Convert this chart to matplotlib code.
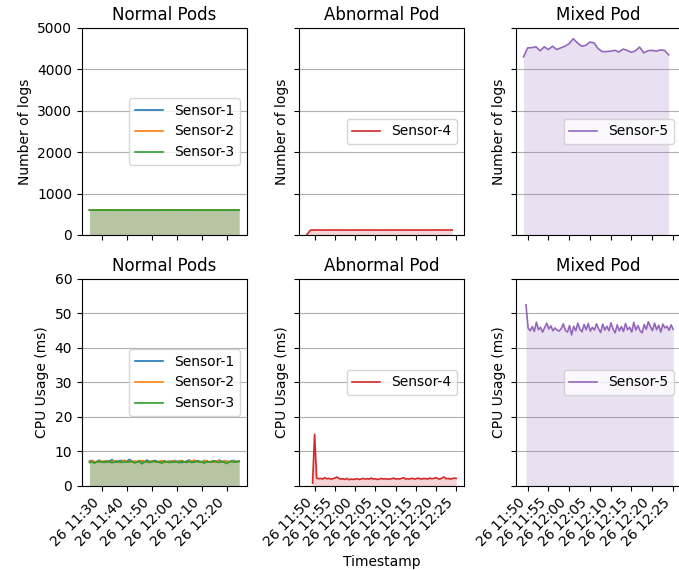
import matplotlib
matplotlib.use("Agg")
import matplotlib.pyplot as plt
import matplotlib.dates as mdates
import pandas as pd

# --- log counts per minute (top row) ---
logs_normal_s1 = [601, 600, 600, 601, 600, 599, 600, 600, 601, 600, 600, 599, 600]
logs_normal_s2 = [600, 601, 600, 600, 599, 600, 601, 600, 600, 600, 601, 600, 600]
logs_normal_s3 = [600, 600, 601, 600, 600, 600, 600, 599, 600, 601, 600, 600, 600]

logs_abnormal_s4 = [0, 118, 120, 120, 119, 120, 120, 121, 120, 120, 120, 119, 120,
                    120, 120, 121, 120, 120, 119, 120, 120, 120, 120, 121, 120, 120,
                    120, 119, 120, 120, 120, 120, 121, 120, 120, 120, 120]

logs_mixed_s5 = [4300, 4520, 4525, 4545, 4450, 4545, 4480, 4560, 4480, 4520, 4560,
                 4620, 4740, 4640, 4560, 4580, 4660, 4640, 4500, 4430, 4430, 4440,
                 4460, 4420, 4490, 4460, 4410, 4450, 4540, 4400, 4450, 4460, 4440,
                 4470, 4460, 4350]

# --- CPU usage (bottom row) ---
cpu_normal_s1 = [7.2, 7.4, 6.9, 7.1, 7.5, 7.0, 6.8, 7.3, 7.2, 7.6, 7.1, 6.9, 7.3, 7.4,
                 7.0, 7.2, 7.7, 7.1, 6.8, 7.0, 7.3, 7.2, 6.9, 7.5, 7.1, 7.0, 7.4, 7.2,
                 6.8, 7.1, 7.3, 7.0, 7.2, 6.9, 7.4, 7.1, 7.3, 6.8, 7.0, 7.2, 7.5, 7.1,
                 6.9, 7.3, 7.2, 7.0, 7.4, 7.1, 6.9, 7.2, 7.3, 7.0, 7.5, 7.1, 6.9, 7.2,
                 7.0, 7.3, 7.4, 7.1, 7.2]
cpu_normal_s2 = [7.0, 7.2, 7.1, 6.8, 7.3, 7.2, 7.0, 7.4, 6.9, 7.1, 7.3, 7.2, 6.8, 7.1,
                 7.5, 7.0, 7.2, 6.9, 7.3, 7.1, 7.0, 7.4, 7.2, 6.8, 7.1, 7.3, 7.0, 6.9,
                 7.2, 7.4, 6.8, 7.1, 7.0, 7.3, 7.2, 6.9, 7.1, 7.4, 7.0, 6.8, 7.2, 7.3,
                 7.5, 7.0, 7.1, 6.9, 7.2, 7.4, 7.0, 7.1, 6.8, 7.3, 7.2, 7.0, 7.4, 6.9,
                 7.1, 7.0, 7.3, 6.9, 7.2]
cpu_normal_s3 = [6.8, 7.0, 6.6, 7.1, 7.0, 6.9, 7.2, 6.9, 7.1, 6.7, 7.0, 7.2, 7.0, 6.8,
                 7.1, 6.9, 7.0, 7.2, 6.7, 6.9, 7.1, 6.4, 7.0, 7.1, 6.8, 7.0, 7.2, 6.9,
                 7.0, 6.6, 7.1, 7.0, 6.8, 7.1, 6.9, 7.0, 6.7, 7.2, 7.0, 6.9, 7.1, 6.8,
                 7.0, 7.2, 6.9, 7.0, 6.6, 7.1, 7.0, 6.9, 7.2, 7.0, 6.8, 7.1, 6.9, 6.5,
                 7.0, 7.1, 6.9, 7.0, 7.1]

cpu_abnormal_s4 = [0.8, 15.0, 2.3, 2.1, 2.2, 2.0, 2.4, 2.1, 2.2, 2.0, 2.1, 2.3, 2.6,
                   2.2, 2.0, 2.1, 1.9, 2.2, 1.8, 2.0, 1.9, 2.0, 2.1, 1.9, 2.0, 2.2,
                   2.0, 2.1, 2.0, 2.3, 2.0, 2.1, 1.9, 2.0, 2.2, 2.0, 2.1, 2.0, 2.0,
                   2.1, 2.3, 2.0, 2.1, 2.0, 2.2, 2.4, 2.0, 2.1, 2.0, 2.2, 2.1, 2.0,
                   2.3, 2.1, 2.0, 2.2, 2.1, 2.0, 2.3, 2.1, 2.2, 2.4, 2.1, 2.0, 2.3,
                   2.6, 2.1, 2.2, 2.0, 2.1, 2.3, 2.2]

cpu_mixed_s5 = [52.5, 45.8, 45.0, 46.2, 44.8, 47.5, 45.3, 46.0, 44.6, 45.9, 47.2, 45.5,
                46.4, 45.0, 45.8, 45.2, 44.9, 45.6, 47.0, 45.1, 44.6, 46.5, 43.8, 46.3,
                45.0, 47.2, 45.4, 44.7, 46.8, 45.3, 47.1, 44.9, 46.0, 45.2, 47.0, 45.6,
                44.5, 46.9, 45.2, 46.3, 45.0, 47.3, 45.5, 44.4, 46.7, 45.0, 46.2, 44.8,
                47.1, 45.3, 46.0, 44.6, 47.4, 45.2, 46.5, 45.0, 44.4, 46.8, 45.4, 47.6,
                46.2, 45.0, 47.2, 45.3, 46.6, 44.6, 46.9, 45.8, 46.3, 45.1, 46.7, 45.4]

t_logs_normal = pd.date_range("2024-03-26 11:25", periods=len(logs_normal_s1), freq="5min")
t_logs_abnormal = pd.date_range("2024-03-26 11:48", periods=len(logs_abnormal_s4), freq="1min")
t_logs_mixed = pd.date_range("2024-03-26 11:49", periods=len(logs_mixed_s5), freq="1min")
t_cpu_normal = pd.date_range("2024-03-26 11:25", periods=len(cpu_normal_s1), freq="1min")
t_cpu_abnormal = pd.date_range("2024-03-26 11:49:30", periods=len(cpu_abnormal_s4), freq="30s")
t_cpu_mixed = pd.date_range("2024-03-26 11:49:36", periods=len(cpu_mixed_s5), freq="30s")

fig, axes = plt.subplots(2, 3, figsize=(6.79, 5.7), dpi=100, sharex="col", sharey="row")
fig.subplots_adjust(left=0.1208, right=1.0025, bottom=0.1474, top=0.9509,
                    wspace=0.318, hspace=0.2126)


def draw(ax, t, ys, labels, colors):
    for y, lab, c in zip(ys, labels, colors):
        ax.plot(t, y, color=c, lw=1.2, label=lab)
        ax.fill_between(t, y, color=c, alpha=0.2, lw=0)
    ax.grid(axis="y", color="#b0b0b0", lw=0.8)
    ax.set_axisbelow(True)
    ax.legend(loc="center right")


draw(axes[0, 0], t_logs_normal, [logs_normal_s1, logs_normal_s2, logs_normal_s3],
     ["Sensor-1", "Sensor-2", "Sensor-3"], ["tab:blue", "tab:orange", "tab:green"])
draw(axes[0, 1], t_logs_abnormal, [logs_abnormal_s4], ["Sensor-4"], ["tab:red"])
draw(axes[0, 2], t_logs_mixed, [logs_mixed_s5], ["Sensor-5"], ["tab:purple"])
draw(axes[1, 0], t_cpu_normal, [cpu_normal_s1, cpu_normal_s2, cpu_normal_s3],
     ["Sensor-1", "Sensor-2", "Sensor-3"], ["tab:blue", "tab:orange", "tab:green"])
draw(axes[1, 1], t_cpu_abnormal, [cpu_abnormal_s4], ["Sensor-4"], ["tab:red"])
draw(axes[1, 2], t_cpu_mixed, [cpu_mixed_s5], ["Sensor-5"], ["tab:purple"])

titles = ["Normal Pods", "Abnormal Pod", "Mixed Pod"]
for j in range(3):
    axes[0, j].set_title(titles[j])
    axes[1, j].set_title(titles[j])
    axes[0, j].set_ylabel("Number of logs")
    axes[1, j].set_ylabel("CPU Usage (ms)")

axes[0, 0].set_ylim(0, 5000)
axes[1, 0].set_ylim(0, 60)

axes[1, 0].xaxis.set_major_locator(mdates.MinuteLocator(byminute=range(0, 60, 10)))
for j in (1, 2):
    axes[1, j].xaxis.set_major_locator(mdates.MinuteLocator(byminute=range(0, 60, 5)))
for j in range(3):
    axes[1, j].xaxis.set_major_formatter(mdates.DateFormatter("%d %H:%M"))
    plt.setp(axes[1, j].get_xticklabels(), rotation=45, ha="right")

axes[1, 1].set_xlabel("Timestamp")

fig.savefig("out.png", dpi=100)
